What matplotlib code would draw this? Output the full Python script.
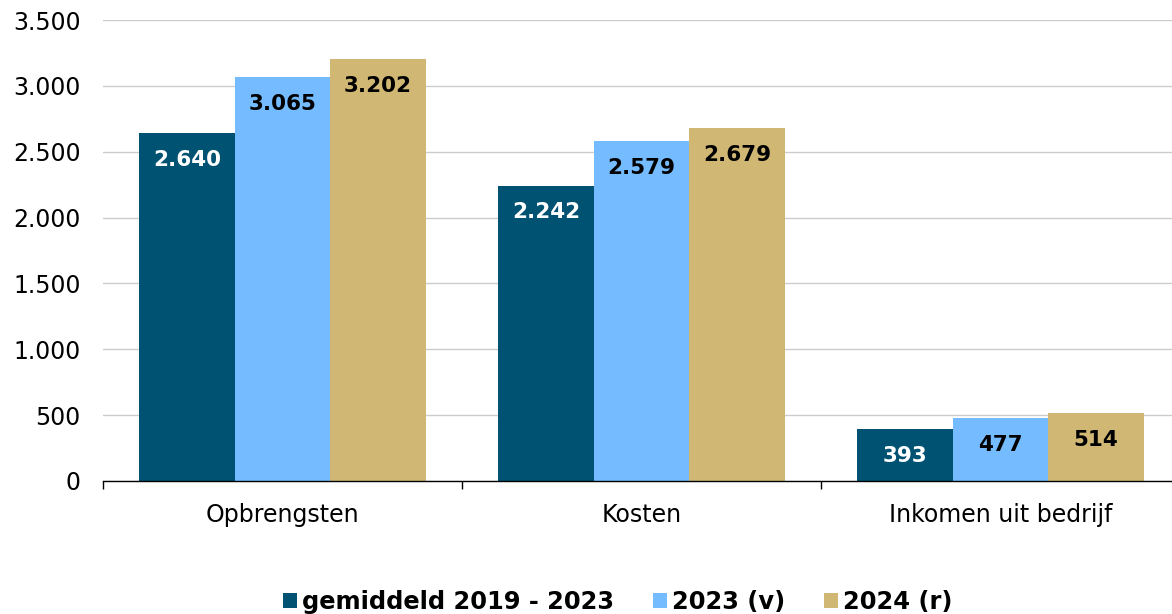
import matplotlib
matplotlib.use("Agg")
import matplotlib.pyplot as plt
import numpy as np

categories = ["Opbrengsten", "Kosten", "Inkomen uit bedrijf"]
series_names = ["gemiddeld 2019 - 2023", "2023 (v)", "2024 (r)"]
gemiddeld = [2640, 2242, 393]
v2023 = [3065, 2579, 477]
r2024 = [3202, 2679, 514]
colors = ["#005273", "#74BCFF", "#D0B874"]
label_colors = ["white", "black", "black"]

plt.rcParams['font.family'] = ['DejaVu Sans']

fig = plt.figure(figsize=(11.72, 6.14), dpi=100)
ax = fig.add_axes([103/1172, (614-481)/614, (1180-103)/1172, (481-20)/614])

x = np.arange(len(categories))
w = 0.266
handles = []
for i, (vals, name) in enumerate(zip([gemiddeld, v2023, r2024], series_names)):
    bars = ax.bar(x + (i-1)*w, vals, width=w, color=colors[i], label=name, zorder=3, linewidth=0)
    handles.append(bars)
    for b, v in zip(bars, vals):
        s = f"{v:,}".replace(",", ".")
        ax.annotate(s, (b.get_x()+b.get_width()/2, v), xytext=(0, -19), textcoords="offset points",
                    ha="center", va="center", fontsize=15.5, fontweight="bold", color=label_colors[i], zorder=4)

ax.set_xlim(-0.5, 2.5)
ax.set_ylim(0, 3500)
ax.set_yticks(np.arange(0, 3501, 500))
ax.set_yticklabels([f"{v:,}".replace(",", ".") for v in range(0, 3501, 500)])
ax.yaxis.grid(True, color="#CCCCCC", linewidth=1, zorder=0)
ax.tick_params(axis="y", length=0, pad=16, labelsize=17)
ax.set_xticks(x)
ax.set_xticklabels(categories)
ax.tick_params(axis="x", which="major", length=0, pad=16, labelsize=17)
ax.set_xticks([-0.5, 0.5, 1.5], minor=True)
ax.tick_params(axis="x", which="minor", length=6, width=1, direction="out", color="black")
for sp in ["top", "right", "left"]:
    ax.spines[sp].set_visible(False)
ax.spines["bottom"].set_color("black")
ax.spines["bottom"].set_linewidth(1)
ax.spines["bottom"].set_zorder(5)

fig.legend(handles=handles, labels=series_names, loc="center", bbox_to_anchor=(0.527, (614-602)/614),
           ncol=3, frameon=False, prop={"weight": "bold", "size": 17.4},
           handlelength=0.6, handleheight=0.6, handletextpad=0.2, columnspacing=1.6, borderaxespad=0)

fig.savefig("out.png", dpi=100)
